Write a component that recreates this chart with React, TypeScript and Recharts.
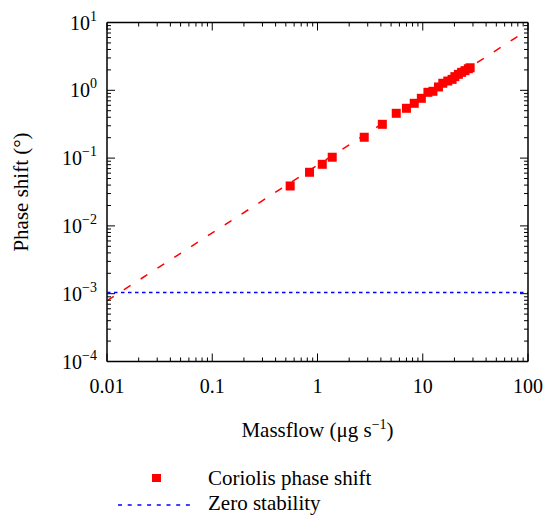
import React from "react";
import { ComposedChart, Scatter, XAxis, YAxis } from "recharts";

const massflow = [0.55, 0.84, 1.11, 1.38, 2.78, 4.13, 5.6, 7.0, 8.3, 9.7, 11.2, 12.5, 14.1, 15.5, 17.3, 19.0, 20.2, 21.8, 23.4, 25.2, 27.1, 28.2];
const phaseShift = [0.0388, 0.0618, 0.081, 0.103, 0.203, 0.315, 0.458, 0.543, 0.643, 0.762, 0.934, 0.967, 1.12, 1.27, 1.37, 1.45, 1.59, 1.72, 1.84, 1.95, 2.08, 2.15];

// linear fit, drawn across the whole x range
const fitX = [0.01, 100];
const fitY = [0.00079, 7.8];

// zero stability level
const zeroX = [0.01, 100];
const zeroY = [0.00104, 0.00104];

const xMajor = [0.01, 0.1, 1, 10, 100];
const xLabels = ["0.01", "0.1", "1", "10", "100"];
const yMajor = [1e-4, 1e-3, 1e-2, 1e-1, 1, 10];
const yExp = ["−4", "−3", "−2", "−1", "0", "1"];

const minorOf = (majors: number[]) => {
  const out: number[] = [];
  majors.slice(0, -1).forEach((m) => {
    for (let k = 2; k <= 9; k++) out.push(+(m * k).toPrecision(3));
  });
  return out;
};
const xTicks = [...xMajor, ...minorOf(xMajor)];
const yTicks = [...yMajor, ...minorOf(yMajor)];

const points = massflow.map((x, i) => ({ x, y: phaseShift[i] }));
const fitData = fitX.map((x, i) => ({ x, y: fitY[i] }));
const zeroData = zeroX.map((x, i) => ({ x, y: zeroY[i] }));

const FONT = '"Liberation Serif", "Times New Roman", serif';
const tickTxt = { fontFamily: FONT, fontSize: 20, fill: "#000" };
const txt = { fontFamily: FONT, fontSize: 21, fill: "#000" };

const isMajor = (v: number, majors: number[]) => majors.some((m) => Math.abs(m - v) / m < 1e-6);

const BottomTick = ({ x, y, payload }: any) => {
  const major = isMajor(payload.value, xMajor);
  const idx = xMajor.findIndex((m) => Math.abs(m - payload.value) / m < 1e-6);
  return (
    <g>
      <line x1={x} x2={x} y1={y} y2={y - (major ? 8 : 4)} stroke="#000" strokeWidth={1} />
      {major && (
        <text x={x} y={y + 31} textAnchor="middle" style={tickTxt}>
          {xLabels[idx]}
        </text>
      )}
    </g>
  );
};

const TopTick = ({ x, y, payload }: any) => {
  const major = isMajor(payload.value, xMajor);
  return <line x1={x} x2={x} y1={y} y2={y + (major ? 8 : 4)} stroke="#000" strokeWidth={1} />;
};

const LeftTick = ({ x, y, payload }: any) => {
  const major = isMajor(payload.value, yMajor);
  const idx = yMajor.findIndex((m) => Math.abs(m - payload.value) / m < 1e-6);
  return (
    <g>
      <line x1={x} x2={x + (major ? 8 : 4)} y1={y} y2={y} stroke="#000" strokeWidth={1} />
      {major && (
        <text x={x - 10} y={y + 7} textAnchor="end" style={tickTxt}>
          10
          <tspan dy={-9} style={{ fontSize: 14 }}>
            {yExp[idx]}
          </tspan>
        </text>
      )}
    </g>
  );
};

const RightTick = ({ x, y, payload }: any) => {
  const major = isMajor(payload.value, yMajor);
  return <line x1={x} x2={x - (major ? 8 : 4)} y1={y} y2={y} stroke="#000" strokeWidth={1} />;
};

const XTitle = ({ viewBox }: any) => (
  <text x={viewBox.x + viewBox.width / 2} y={viewBox.y + 75} textAnchor="middle" style={txt}>
    Massflow (μg s
    <tspan dy={-8} style={{ fontSize: 14 }}>−1</tspan>
    <tspan dy={8}>)</tspan>
  </text>
);

const YTitle = ({ viewBox }: any) => {
  const cx = 28;
  const cy = viewBox.y + viewBox.height / 2;
  return (
    <text x={cx} y={cy} transform={`rotate(-90 ${cx} ${cy})`} textAnchor="middle" style={txt}>
      Phase shift (°)
    </text>
  );
};

const Square = ({ cx, cy }: any) => <rect x={cx - 4.5} y={cy - 4.5} width={9} height={9} fill="#ff0000" />;
const NoDot = () => <g />;

const axisLine = { stroke: "#000", strokeWidth: 1.5 };

export default function App() {
  return (
    <div style={{ position: "absolute", left: 0, top: 0, width: 544, height: 517, background: "#fff" }}>
      <ComposedChart width={544} height={517} margin={{ top: 0, right: 0, bottom: 0, left: 0 }}>
        <XAxis xAxisId="b" dataKey="x" type="number" scale="log" domain={[0.01, 100]} allowDataOverflow
          ticks={xTicks} interval={0} tickSize={0} tickMargin={0} tickLine={false} axisLine={axisLine}
          tick={<BottomTick />} height={155.5} orientation="bottom" label={<XTitle />} />
        <XAxis xAxisId="t" dataKey="x" type="number" scale="log" domain={[0.01, 100]} allowDataOverflow
          ticks={xTicks} interval={0} tickSize={0} tickMargin={0} tickLine={false} axisLine={axisLine}
          tick={<TopTick />} height={22.5} orientation="top" />
        <YAxis yAxisId="l" dataKey="y" type="number" scale="log" domain={[1e-4, 10]} allowDataOverflow
          ticks={yTicks} interval={0} tickSize={0} tickMargin={0} tickLine={false} axisLine={axisLine}
          tick={<LeftTick />} width={107} orientation="left" label={<YTitle />} />
        <YAxis yAxisId="r" dataKey="y" type="number" scale="log" domain={[1e-4, 10]} allowDataOverflow
          ticks={yTicks} interval={0} tickSize={0} tickMargin={0} tickLine={false} axisLine={axisLine}
          tick={<RightTick />} width={16} orientation="right" />
        <Scatter xAxisId="b" yAxisId="l" data={zeroData} shape={NoDot} isAnimationActive={false}
          line={{ stroke: "#0000ff", strokeWidth: 1.5, strokeDasharray: "3.5 3.5" }} />
        <Scatter xAxisId="b" yAxisId="l" data={fitData} shape={NoDot} isAnimationActive={false}
          line={{ stroke: "#ff0000", strokeWidth: 1.5, strokeDasharray: "8 12" }} />
        <Scatter xAxisId="b" yAxisId="l" data={points} shape={Square} isAnimationActive={false} />
      </ComposedChart>
      <svg width={544} height={517} style={{ position: "absolute", left: 0, top: 0, pointerEvents: "none" }}>
        <rect x={152} y={474} width={9} height={8} fill="#ff0000" />
        <text x={208} y={485} style={txt}>Coriolis phase shift</text>
        <line x1={118} x2={192} y1={505} y2={505} stroke="#0000ff" strokeWidth={1.5} strokeDasharray="4 5.7" />
        <text x={208} y={510} style={txt}>Zero stability</text>
      </svg>
    </div>
  );
}
